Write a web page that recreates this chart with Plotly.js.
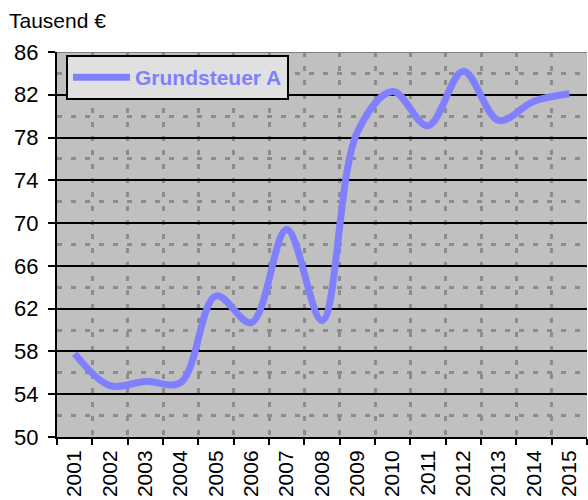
<!DOCTYPE html>
<html>
<head>
<meta charset="utf-8">
<script src="https://cdn.plot.ly/plotly-3.0.1.min.js"></script>
<style>
  body { margin: 0; background: #fff; }
  #chart { width: 588px; height: 500px; }
</style>
</head>
<body>
<div id="chart"></div>
<script>
// Grundsteuer A, Tausend Euro
var years = ["2001", "2002", "2003", "2004", "2005", "2006", "2007", "2008",
             "2009", "2010", "2011", "2012", "2013", "2014", "2015"];
var grundsteuerA = [57.8, 54.8, 55.2, 55.1, 63.2, 60.7, 69.4, 60.9,
                    78.5, 82.3, 79.1, 84.2, 79.6, 81.4, 82.1];
var seriesName = "Grundsteuer A";
var unitLabel = "Tausend €";

let CHART = document.getElementById('chart');
let FONT = "Liberation Sans, Arial, sans-serif";

Plotly.newPlot(CHART, [{
    x: years,
    y: grundsteuerA,
    name: seriesName,
    type: "scatter",
    mode: "lines",
    line: { color: '#8080ff', width: 7, shape: 'spline', smoothing: 1 },
    showlegend: true,
}], {
    width: 588,
    height: 500,
    margin: { l: 57, r: 1, t: 52, b: 63 },
    paper_bgcolor: '#ffffff',
    plot_bgcolor: '#c0c0c0',
    font: { family: FONT, size: 21, color: '#000' },
    xaxis: {
        type: 'category',
        tickson: 'boundaries',
        tickangle: -90,
        ticks: 'outside',
        ticklen: 6,
        tickwidth: 2,
        tickcolor: '#000',
        ticklabelstandoff: 3,
        showline: true,
        linecolor: '#000',
        linewidth: 2,
        showgrid: true,
        gridcolor: '#8c8c8c',
        gridwidth: 3,
        griddash: '5px,9px',
        tickfont: { family: FONT, size: 21, color: '#000' },
        range: [-0.5, 14.5],
    },
    yaxis: {
        range: [50, 86],
        tick0: 50,
        dtick: 4,
        ticks: 'outside',
        ticklen: 7,
        tickwidth: 2,
        tickcolor: '#000',
        ticklabelstandoff: 5,
        showline: true,
        linecolor: '#000',
        linewidth: 2,
        showgrid: true,
        gridcolor: '#000',
        gridwidth: 2,
        zeroline: false,
        tickfont: { family: FONT, size: 22, color: '#000' },
        minor: {
            tick0: 50,
            dtick: 2,
            showgrid: true,
            gridcolor: '#8c8c8c',
            gridwidth: 3,
            griddash: '5px,9px',
            ticks: '',
        },
    },
    legend: {
        x: 0.017,
        y: 0.992,
        xanchor: 'left',
        yanchor: 'top',
        bgcolor: '#e0e0e0',
        bordercolor: '#000',
        borderwidth: 2,
        itemwidth: 57,
        font: { family: FONT, size: 21, color: '#8080ff', weight: 'bold' },
    },
    shapes: [{
        type: 'line', xref: 'paper', yref: 'y',
        x0: 0, x1: 1, y0: 86, y1: 86,
        line: { color: '#808080', width: 2 },
    }],
    annotations: [{
        text: unitLabel,
        xref: 'paper', yref: 'paper',
        x: -0.094, y: 1.083,
        xanchor: 'left', yanchor: 'middle',
        showarrow: false,
        font: { family: FONT, size: 21, color: '#000' },
    }],
}, { displayModeBar: false });
</script>
</body>
</html>
